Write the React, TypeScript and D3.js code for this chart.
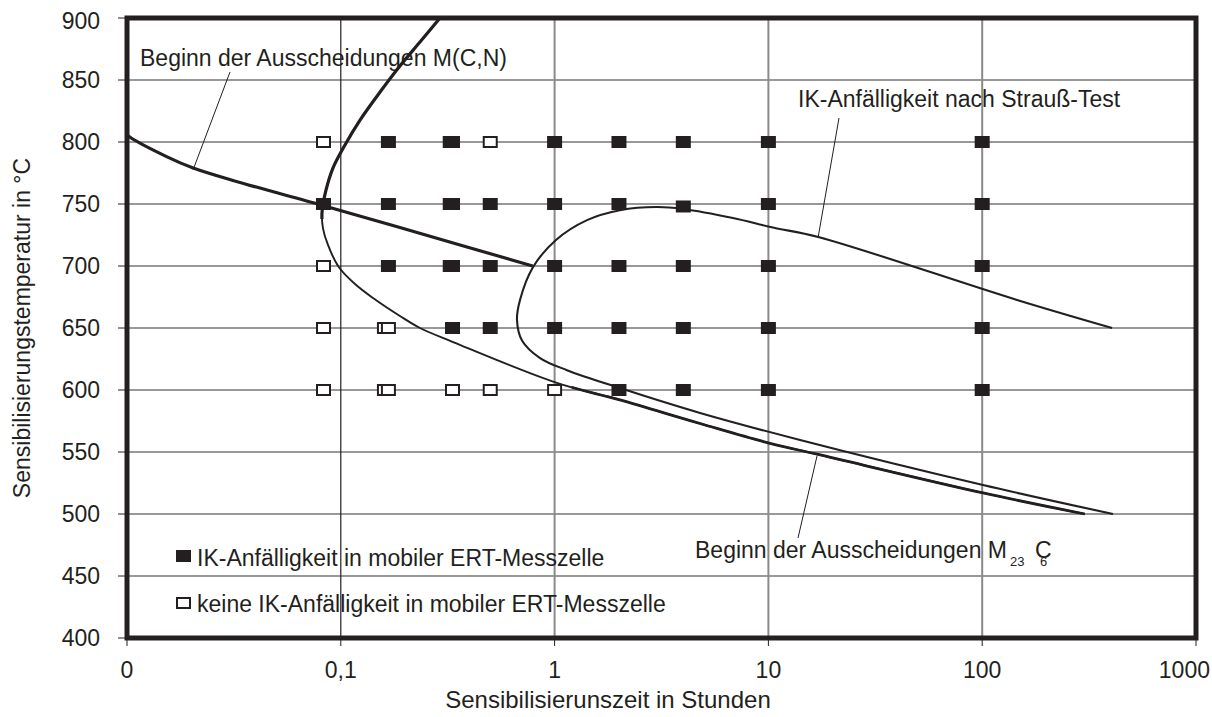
import React from 'react';
import * as d3 from 'd3';

// Sensibilisierungszeit (h) / temperature (°C)
const xTicks = [0.01, 0.1, 1, 10, 100, 1000];
const xTickLabels = ['0', '0,1', '1', '10', '100', '1000'];
const yTicks = [400, 450, 500, 550, 600, 650, 700, 750, 800, 850, 900];

// squares: [t, T]
const filledPoints: [number, number][] = [
  [0.167, 800], [0.325, 800], [0.333, 800], [1, 800], [2, 800], [4, 800], [10, 800], [100, 800],
  [0.083, 750], [0.167, 750], [0.325, 750], [0.333, 750], [0.5, 750], [1, 750], [2, 750], [4, 748], [10, 750], [100, 750],
  [0.167, 700], [0.325, 700], [0.333, 700], [0.5, 700], [1, 700], [2, 700], [4, 700], [10, 700], [100, 700],
  [0.333, 650], [0.5, 650], [1, 650], [2, 650], [4, 650], [10, 650], [100, 650],
  [2, 600], [4, 600], [10, 600], [100, 600],
];
const openPoints: [number, number][] = [
  [0.083, 800], [0.5, 800],
  [0.083, 700],
  [0.083, 650], [0.16, 650], [0.167, 650],
  [0.083, 600], [0.16, 600], [0.167, 600], [0.333, 600], [0.5, 600], [1, 600],
];

// Beginn der Ausscheidungen M(C,N)
const mcnLine: [number, number][] = [
  [0.01, 806], [0.0103, 804], [0.0154, 788], [0.0204, 779], [0.0313, 769],
  [0.0817, 749], [0.189, 731], [0.79, 700],
];
// Beginn der Ausscheidungen M23C6 (C-curve)
const m23Line: [number, number][] = [
  [0.291, 900], [0.2346, 880.6], [0.189, 861.3], [0.1526, 840.3], [0.123, 817.7],
  [0.1046, 797.6], [0.0919, 779], [0.0853, 761.3], [0.0817, 743.5], [0.0825, 730.6],
  [0.0871, 717], [0.098, 699], [0.1165, 685.5], [0.1415, 674.2], [0.189, 659.7],
  [0.2346, 650], [0.335, 638.7], [1.015, 606], [2.02, 592], [4.79, 573],
  [10.17, 557], [17.1, 548], [100.9, 517], [302, 500],
];
// IK-Anfälligkeit nach Strauß-Test
const straussLine: [number, number][] = [
  [405, 650], [145.5, 672.6], [17.1, 723.4], [10.5, 731], [6.83, 738.7],
  [3.99, 746], [3.01, 747.6], [2.02, 745], [1.418, 737], [1.015, 721],
  [0.792, 699], [0.689, 672.6], [0.667, 656.5], [0.704, 640], [0.855, 625.8],
  [1.143, 616], [2.02, 601.6], [4.79, 581.5], [14.06, 559.7], [100.9, 523.4],
  [409, 500],
];

const W = 1212;
const H = 717;
const ink = '#231f20';
const font = '"Liberation Sans", Arial, sans-serif';

const App: React.FC = () => {
  const x = d3.scaleLog().domain([0.01, 1000]).range([127, 1196]);
  const y = d3.scaleLinear().domain([400, 900]).range([638, 18]);

  const line = d3
    .line<[number, number]>()
    .x((d) => x(d[0]))
    .y((d) => y(d[1]))
    .curve(d3.curveCatmullRom.alpha(0.5));

  const m23Path = line(m23Line) || '';
  const sw = 15;
  const sh = 12;

  return (
    <svg width={W} height={H} style={{ position: 'absolute', left: 0, top: 0 }} fontFamily={font}>
      <defs>
        {/* the M23C6 curve is drawn heavier above 738 °C and beyond 1 h */}
        <clipPath id="m23-top">
          <rect x={0} y={0} width={W} height={y(738)} />
        </clipPath>
        <clipPath id="m23-right">
          <rect x={x(1.2)} y={0} width={W} height={H} />
        </clipPath>
      </defs>
      <rect width={W} height={H} fill="white" />

      {/* grid */}
      {yTicks.slice(1, -1).map((v) => (
        <line key={'h' + v} x1={x(0.01)} x2={x(1000)} y1={y(v)} y2={y(v)} stroke="#333" strokeWidth={1.2} />
      ))}
      {[0.1, 1, 10, 100].map((v) => (
        <line
          key={'v' + v}
          x1={x(v)} x2={x(v)} y1={y(900)} y2={y(400)}
          stroke={v === 0.1 ? ink : '#8a8a8a'}
          strokeWidth={v === 0.1 ? 1.2 : 2}
        />
      ))}

      {/* curves */}
      <path d={line(mcnLine) || ''} fill="none" stroke={ink} strokeWidth={3.2} />
      <path d={m23Path} fill="none" stroke={ink} strokeWidth={1.9} />
      <path d={m23Path} fill="none" stroke={ink} strokeWidth={3.2} clipPath="url(#m23-top)" />
      <path d={m23Path} fill="none" stroke={ink} strokeWidth={2.8} clipPath="url(#m23-right)" />
      <path d={line(straussLine) || ''} fill="none" stroke={ink} strokeWidth={2.1} />

      {/* pointers */}
      <line x1={230} y1={72} x2={193} y2={170} stroke={ink} strokeWidth={1} />
      <line x1={839} y1={118} x2={818} y2={238} stroke={ink} strokeWidth={1} />
      <line x1={798} y1={538} x2={817} y2={456} stroke={ink} strokeWidth={1} />

      {/* squares */}
      {filledPoints.map((d, i) => (
        <rect key={'f' + i} x={x(d[0]) - sw / 2} y={y(d[1]) - sh / 2} width={sw} height={sh} fill={ink} />
      ))}
      {openPoints.map((d, i) => (
        <rect key={'o' + i} x={x(d[0]) - sw / 2 + 1} y={y(d[1]) - sh / 2 + 1} width={sw - 2} height={sh - 2}
          fill="white" stroke={ink} strokeWidth={2} />
      ))}

      {/* frame */}
      <rect x={x(0.01)} y={y(900)} width={x(1000) - x(0.01)} height={y(400) - y(900)} fill="none" stroke={ink} strokeWidth={5} />

      {/* axes */}
      {yTicks.map((v) => (
        <g key={'yt' + v}>
          <line x1={118} x2={127} y1={y(v)} y2={y(v)} stroke={ink} strokeWidth={1} />
          <text x={100} y={Math.max(y(v) + 8, 29)} textAnchor="end" fontSize={23} fill={ink}>{v}</text>
        </g>
      ))}
      {xTicks.map((v, i) => {
        const last = i === xTicks.length - 1;
        return (
          <g key={'xt' + v}>
            <line x1={x(v)} x2={x(v)} y1={638} y2={646} stroke={ink} strokeWidth={1} />
            <text x={last ? W - 2 : x(v)} y={678} textAnchor={last ? 'end' : 'middle'} fontSize={23} fill={ink}>
              {xTickLabels[i]}
            </text>
          </g>
        );
      })}
      <text x={608} y={708} textAnchor="middle" fontSize={24} fill={ink}>Sensibilisierunszeit in Stunden</text>
      <text transform="translate(30,328) rotate(-90)" textAnchor="middle" fontSize={23} fill={ink}>
        Sensibilisierungstemperatur in °C
      </text>

      {/* annotations */}
      <text x={140} y={66} fontSize={23} fill={ink}>Beginn der Ausscheidungen M(C,N)</text>
      <text x={798} y={107} fontSize={23} fill={ink}>IK-Anfälligkeit nach Strauß-Test</text>
      <text x={695} y={558} fontSize={23} fill={ink}>Beginn der Ausscheidungen M</text>
      <text x={1010} y={566} fontSize={13} fill={ink}>23</text>
      <text x={1035} y={558} fontSize={23} fill={ink}>C</text>
      <text x={1040} y={566} fontSize={13} fill={ink}>6</text>

      {/* legend */}
      <rect x={176} y={550} width={sw} height={sh} fill={ink} />
      <text x={197} y={566} fontSize={23} fill={ink}>IK-Anfälligkeit in mobiler ERT-Messzelle</text>
      <rect x={177} y={598} width={sw - 2} height={sh - 2} fill="white" stroke={ink} strokeWidth={2} />
      <text x={197} y={612} fontSize={23} fill={ink}>keine IK-Anfälligkeit in mobiler ERT-Messzelle</text>
    </svg>
  );
};

export default App;
